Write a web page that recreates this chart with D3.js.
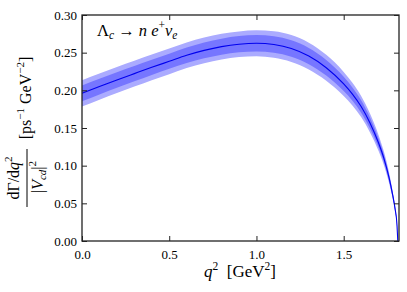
<!DOCTYPE html>
<html><head><meta charset="utf-8">
<script src="https://cdn.jsdelivr.net/npm/d3@7/dist/d3.min.js"></script>
<style>
html,body{margin:0;padding:0;background:#fff;}
svg text{font-family:"Liberation Serif","DejaVu Serif",serif;fill:#000;}
</style></head>
<body>
<svg id="c" width="407" height="292"></svg>
<script>
// q^2 sample points [GeV^2]
const q2 =        [0.00, 0.10, 0.20, 0.30, 0.40, 0.50, 0.60, 0.70, 0.80, 0.90, 1.00, 1.10, 1.20, 1.30, 1.40, 1.50, 1.55, 1.60, 1.65, 1.70, 1.73, 1.76, 1.78, 1.795, 1.805, 1.81];
const central =   [0.1960,0.2050,0.2138,0.2222,0.2305,0.2385,0.2465,0.2530,0.2580,0.2612,0.2625,0.2608,0.2555,0.2455,0.2300,0.2085,0.1950,0.1785,0.1570,0.1300,0.1100,0.0840,0.0620,0.0420,0.0230,0.0000];
const outerLow =  [0.1785,0.1876,0.1965,0.2050,0.2134,0.2215,0.2295,0.2360,0.2410,0.2442,0.2453,0.2433,0.2377,0.2277,0.2128,0.1925,0.1800,0.1645,0.1445,0.1195,0.1010,0.0770,0.0568,0.0384,0.0210,0.0000];
const outerHigh = [0.2135,0.2224,0.2311,0.2394,0.2476,0.2555,0.2635,0.2700,0.2750,0.2782,0.2797,0.2783,0.2733,0.2633,0.2472,0.2245,0.2100,0.1925,0.1695,0.1405,0.1190,0.0910,0.0672,0.0456,0.0250,0.0000];
const innerLow =  [0.1855,0.1946,0.2035,0.2120,0.2204,0.2285,0.2363,0.2426,0.2474,0.2504,0.2515,0.2498,0.2445,0.2347,0.2196,0.1990,0.1862,0.1703,0.1497,0.1240,0.1048,0.0800,0.0590,0.0400,0.0219,0.0000];
const innerHigh = [0.2065,0.2154,0.2241,0.2324,0.2406,0.2485,0.2567,0.2634,0.2686,0.2720,0.2735,0.2718,0.2665,0.2563,0.2404,0.2180,0.2038,0.1867,0.1643,0.1360,0.1152,0.0880,0.0650,0.0440,0.0241,0.0000];
const xTicks = [0.0, 0.5, 1.0, 1.5];
const yTicks = [0.00, 0.05, 0.10, 0.15, 0.20, 0.25, 0.30];

const L = 82, R = 399, T = 15, B = 241;
const svg = d3.select("#c");
const x = d3.scaleLinear().domain([0, 1.817]).range([L, R]);
const y = d3.scaleLinear().domain([0, 0.30]).range([B, T]);

svg.append("defs").append("clipPath").attr("id","clip")
  .append("rect").attr("x",L).attr("y",T).attr("width",R-L).attr("height",B-T);

const g = svg.append("g").attr("clip-path","url(#clip)");
const idx = d3.range(q2.length);
const band = (lo, hi) => d3.area().curve(d3.curveMonotoneX)
  .x(i => x(q2[i])).y0(i => y(lo[i])).y1(i => y(hi[i]));
g.append("path").attr("d", band(outerLow, outerHigh)(idx)).attr("fill","#ababff");
g.append("path").attr("d", band(innerLow, innerHigh)(idx)).attr("fill","#7676ff");
g.append("path").attr("d", d3.line().curve(d3.curveMonotoneX).x(i => x(q2[i])).y(i => y(central[i]))(idx))
  .attr("fill","none").attr("stroke","#0000ee").attr("stroke-width",1.1);

// axes with inward ticks
const tl = 5;
const ax = svg.append("g").attr("transform",`translate(0,${B})`)
  .call(d3.axisBottom(x).tickValues(xTicks).tickSize(-tl).tickPadding(9).tickFormat(d3.format(".1f")));
const axT = svg.append("g").attr("transform",`translate(0,${T})`)
  .call(d3.axisTop(x).tickValues(xTicks).tickSize(-tl).tickFormat(""));
const ay = svg.append("g").attr("transform",`translate(${L},0)`)
  .call(d3.axisLeft(y).tickValues(yTicks).tickSize(-tl).tickPadding(5).tickFormat(d3.format(".2f")));
const ayR = svg.append("g").attr("transform",`translate(${R},0)`)
  .call(d3.axisRight(y).tickValues(yTicks).tickSize(-tl).tickFormat(""));
[ax, axT, ay, ayR].forEach(a => {
  a.select(".domain").remove();
  a.selectAll(".tick line").attr("stroke","#222").attr("stroke-width",1);
  a.selectAll(".tick text").style("font-family","Liberation Serif, serif").attr("font-size",13).attr("fill","#222");
});
svg.append("rect").attr("x",L).attr("y",T).attr("width",R-L).attr("height",B-T)
  .attr("fill","none").attr("stroke","#222").attr("stroke-width",1.3);

// title inside
const t = svg.append("text").attr("x",97).attr("y",36).attr("font-size",16.5);
t.append("tspan").text("Λ");
t.append("tspan").attr("font-style","italic").attr("font-size",11.5).attr("dy",3).text("c");
t.append("tspan").attr("dy",-3).text(" → ");
t.append("tspan").attr("font-style","italic").text("n e");
t.append("tspan").attr("font-size",11.5).attr("dy",-7).text("+");
t.append("tspan").attr("font-style","italic").attr("dy",7).text("ν");
t.append("tspan").attr("font-style","italic").attr("font-size",11.5).attr("dy",3).text("e");

// x label
const xl = svg.append("text").attr("x",240).attr("y",277).attr("text-anchor","middle").attr("font-size",17);
xl.append("tspan").attr("font-style","italic").text("q");
xl.append("tspan").attr("font-size",11.5).attr("dy",-7).text("2");
xl.append("tspan").attr("dy",7).text("\u00a0\u00a0[GeV");
xl.append("tspan").attr("font-size",11.5).attr("dy",-7).text("2");
xl.append("tspan").attr("dy",7).text("]");

// y label: fraction + units, rotated
const num = svg.append("text").attr("transform","translate(19,178) rotate(-90)").attr("text-anchor","middle").attr("font-size",16);
num.append("tspan").text("dΓ/d");
num.append("tspan").attr("font-style","italic").text("q");
num.append("tspan").attr("font-size",11).attr("dy",-7).text("2");
svg.append("line").attr("x1",27).attr("x2",27).attr("y1",149).attr("y2",207).attr("stroke","#000").attr("stroke-width",1);
const den = svg.append("text").attr("transform","translate(43,177) rotate(-90)").attr("text-anchor","middle").attr("font-size",16);
den.append("tspan").text("|");
den.append("tspan").attr("font-style","italic").text("V");
den.append("tspan").attr("font-style","italic").attr("font-size",11).attr("dy",3).text("cd");
den.append("tspan").attr("dy",-3).text("|");
den.append("tspan").attr("font-size",11).attr("dy",-7).text("2");
const un = svg.append("text").attr("transform","translate(31,98) rotate(-90)").attr("text-anchor","middle").attr("font-size",16);
un.append("tspan").text("[ps");
un.append("tspan").attr("font-size",11).attr("dy",-7).text("−1");
un.append("tspan").attr("dy",7).text(" GeV");
un.append("tspan").attr("font-size",11).attr("dy",-7).text("−2");
un.append("tspan").attr("dy",7).text("]");
</script>
</body></html>
